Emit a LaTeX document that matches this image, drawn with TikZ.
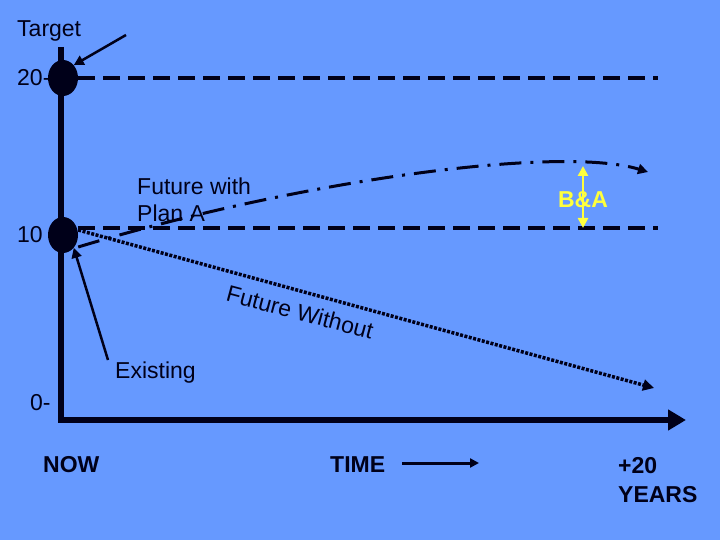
\documentclass[tikz,border=0pt]{standalone}
\usepackage{fontspec}
\setmainfont{Liberation Sans}
\usetikzlibrary{arrows.meta}
\definecolor{slide}{RGB}{102,153,255}
\definecolor{ink}{RGB}{0,0,25}
\definecolor{gap}{RGB}{255,255,60}
\tikzset{
    lbl/.style={text=ink, font=\fontsize{23}{27}\selectfont, inner sep=0pt},
    boldlbl/.style={lbl, font=\fontsize{23}{29}\selectfont\bfseries},
    level/.style={ink, line width=4pt, dash pattern=on 17pt off 8pt},
    dot/.style={fill=ink, ellipse, minimum width=30pt, minimum height=36pt, inner sep=0pt}
}
\usetikzlibrary{shapes.geometric}
\begin{document}
\begin{tikzpicture}[x=1pt, y=-1pt]
            \useasboundingbox[fill=slide] (0, 0) rectangle (720, 540);
            % axes
            \coordinate (top) at (61, 47);
            \coordinate (origin) at (61, 420);
            \coordinate (xend) at (686, 420);
            \draw[ink, line width=6pt] (top) -- (origin);
            \draw[ink, line width=6pt, -{Triangle[length=18pt, width=20pt]}] ([xshift=-3pt]origin) -- (xend);
            % levels
            \node[dot] (t20) at (63, 78) {};
            \node[dot] (t10) at (63, 235) {};
            \coordinate (e20) at (658, 78);
            \coordinate (e10) at (658, 228);
            \draw[level] (t20.east) -- (e20);
            \draw[level] ([yshift=7pt]t10.east) -- (e10);
            % y labels
            \node[lbl, anchor=west] (y20) at (17, 78) {20-};
            \node[lbl, anchor=west] (y10) at (17, 235) {10};
            \node[lbl, anchor=west] (y0) at (30, 403) {0-};
            \node[lbl, anchor=west] (tgt) at (17, 31) {Target};
            \coordinate (tgtarrow) at (126, 35);
            \draw[ink, line width=2.5pt, -{Triangle[length=10pt, width=10pt]}] (tgtarrow) -- (t20.north east);
            % future with plan a
            \coordinate (planend) at (648, 172);
            \draw[ink, line width=3pt, dash pattern=on 22pt off 9pt on 3pt off 9pt,
                  -{Triangle[length=10pt, width=10pt]}]
                ([yshift=-12pt]t10.east) .. controls (300, 180) and (560, 145) .. (planend);
            \node[lbl, anchor=west, align=left] (plana) at (137, 200) {Future with\\Plan A};
            % gap
            \coordinate (gtop) at (583, 166);
            \coordinate (gbot) at (583, 228);
            \draw[gap, line width=2.5pt, {Triangle[length=10pt, width=10pt]}-{Triangle[length=10pt, width=10pt]}] (gtop) -- (gbot);
            \node[lbl, text=gap, font=\fontsize{23}{27}\selectfont\bfseries] (ba) at (583, 200) {B\&A};
            % future without
            \coordinate (woend) at (654, 388);
            \draw[ink, line width=3.5pt, dash pattern=on 3pt off 1.5pt,
                  -{Triangle[length=11pt, width=11pt]}] ([yshift=5pt]t10.east) -- (woend);
            \node[lbl, rotate=-15] (without) at (300, 312) {Future Without};
            % existing
            \coordinate (exarrow) at (108, 360);
            \draw[ink, line width=2.5pt, -{Triangle[length=10pt, width=10pt]}] (exarrow) -- (t10.south east);
            \node[lbl, anchor=west] (exist) at (115, 373) {Existing};
            % time axis labels
            \node[boldlbl, anchor=west] (now) at (43, 465) {NOW};
            \node[boldlbl, anchor=west] (time) at (330, 465) {TIME};
            \coordinate (tstart) at (402, 463);
            \coordinate (tend) at (479, 463);
            \draw[ink, line width=3pt, -{Triangle[length=9pt, width=9pt]}] (tstart) -- (tend);
            \node[boldlbl, anchor=west, align=left] (years) at (618, 480) {+20\\YEARS};
        \end{tikzpicture}
\end{document}
